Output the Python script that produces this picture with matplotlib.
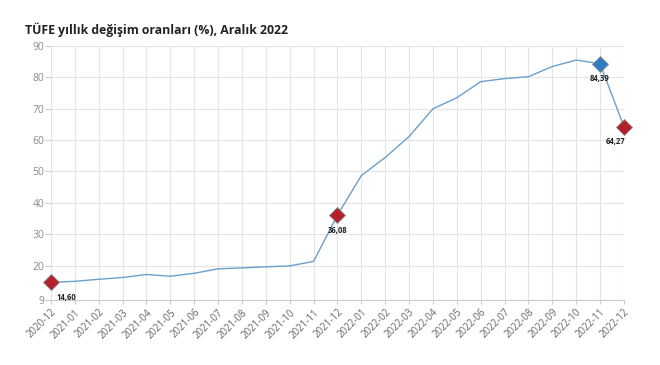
import matplotlib
matplotlib.use("Agg")
import matplotlib.pyplot as plt

# TÜFE yıllık değişim, Aralık 2020 - Aralık 2022
months = ['2020-12', '2021-01', '2021-02', '2021-03', '2021-04', '2021-05', '2021-06',
          '2021-07', '2021-08', '2021-09', '2021-10', '2021-11', '2021-12',
          '2022-01', '2022-02', '2022-03', '2022-04', '2022-05', '2022-06',
          '2022-07', '2022-08', '2022-09', '2022-10', '2022-11', '2022-12']
values = [14.60, 14.97, 15.61, 16.19, 17.14, 16.59, 17.53, 18.95, 19.25, 19.58,
          19.89, 21.31, 36.08, 48.69, 54.44, 61.14, 69.97, 73.50, 78.62,
          79.60, 80.21, 83.45, 85.51, 84.39, 64.27]
yticks = [9, 20, 30, 40, 50, 60, 70, 80, 90]

# işaretli noktalar
red_points = ['2020-12', '2021-12', '2022-12']
blue_points = ['2022-11']

plt.rcParams['font.family'] = ['Open Sans', 'DejaVu Sans']

fig = plt.figure(figsize=(6.6, 3.65), dpi=100)
ax = fig.add_axes([0.0773, 0.178, 0.868, 0.696])

x = list(range(len(months)))
ax.plot(x, values, color='#6d9fcc', lw=1.0, zorder=3)

for m in red_points + blue_points:
    i = months.index(m)
    col = '#b3202b' if m in red_points else '#2f7dc0'
    ax.plot(i, values[i], marker='D', ms=8, color=col, mec='#8a8a8a', mew=0.6,
            zorder=4, clip_on=False)
    lab = f"{values[i]:.2f}".replace('.', ',')
    if i == 0:
        off, ha = (4, -11), 'left'
    elif i == len(months) - 1:
        off, ha = (1, -11), 'right'
    else:
        off, ha = (0, -11), 'center'
    ax.annotate(lab, (i, values[i]), xytext=off, textcoords='offset points',
                ha=ha, va='center', fontsize=5.5, fontweight='bold', color='#222222', zorder=5)

ax.set_xlim(0, len(months) - 1)
ax.set_ylim(9, 90)
ax.set_yticks(yticks)
ax.set_xticks(x)
ax.set_xticklabels(months, rotation=45, ha='right', rotation_mode='anchor')
ax.tick_params(axis='x', labelsize=7, colors='#666666', length=3, color='#cccccc', pad=2)
ax.tick_params(axis='y', labelsize=7.5, colors='#8a8a8a', length=4, color='#cccccc', pad=1)

ax.grid(True, color='#e4e4e4', lw=0.8)
ax.set_axisbelow(True)
for s in ['top', 'left', 'right']:
    ax.spines[s].set_visible(False)
ax.spines['bottom'].set_color('#cccccc')

fig.text(0.038, 0.918, 'TÜFE yıllık değişim oranları (%), Aralık 2022',
         fontsize=8.8, fontweight='bold', color='#222222', va='center')

fig.savefig('out.png', dpi=100)
